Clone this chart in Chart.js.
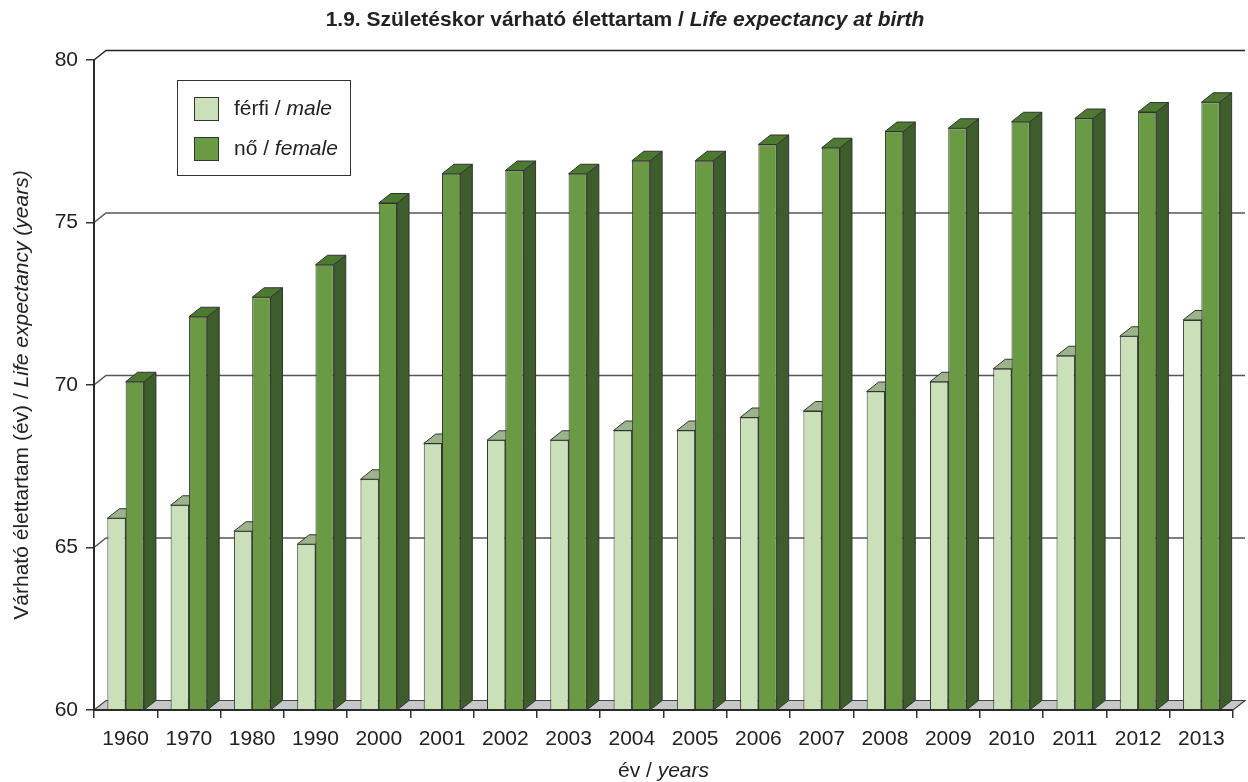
<!DOCTYPE html>
<html>
<head>
<meta charset="utf-8">
<script src="https://cdn.jsdelivr.net/npm/chart.js@4"></script>
<style>
  html, body { margin: 0; padding: 0; background: #fff; }
  #c { display: block; }
</style>
</head>
<body>
<canvas id="c" width="1248" height="782"></canvas>
<script>
// --- data ---
const years = ['1960', '1970', '1980', '1990', '2000', '2001', '2002', '2003', '2004',
               '2005', '2006', '2007', '2008', '2009', '2010', '2011', '2012', '2013'];
const male = [65.9, 66.3, 65.5, 65.1, 67.1, 68.2, 68.3, 68.3, 68.6,
              68.6, 69.0, 69.2, 69.8, 70.1, 70.5, 70.9, 71.5, 72.0];
const female = [70.1, 72.1, 72.7, 73.7, 75.6, 76.5, 76.6, 76.5, 76.9,
                76.9, 77.4, 77.3, 77.8, 77.9, 78.1, 78.2, 78.4, 78.7];
const yTicks = [60, 65, 70, 75, 80];

const FONT = '"Liberation Sans", Arial, sans-serif';
const DX = 12, DY = 9.5; // 3d depth

// face colours per dataset: front, top, side
const faces = [
  { front: '#c9e0b9', top: '#9db38c', side: '#8aa079' },
  { front: '#6a9a44', top: '#4d7a31', side: '#3d5e2b' }
];

// draw a run of text parts with mixed fonts, centred on x
function drawParts(ctx, parts, x, y) {
  let total = 0;
  parts.forEach(p => { ctx.font = p.font; total += ctx.measureText(p.text).width; });
  let cx = x - total / 2;
  ctx.textAlign = 'left';
  ctx.textBaseline = 'middle';
  parts.forEach(p => {
    ctx.font = p.font;
    ctx.fillText(p.text, cx, y);
    cx += ctx.measureText(p.text).width;
  });
}

function poly(ctx, pts, fill, stroke) {
  ctx.beginPath();
  ctx.moveTo(pts[0][0], pts[0][1]);
  for (let i = 1; i < pts.length; i++) ctx.lineTo(pts[i][0], pts[i][1]);
  ctx.closePath();
  if (fill) { ctx.fillStyle = fill; ctx.fill(); }
  if (stroke) { ctx.strokeStyle = stroke; ctx.lineWidth = 1; ctx.stroke(); }
}

const depthPlugin = {
  id: 'depth',
  beforeDatasetsDraw(chart) {
    const { ctx, chartArea: a, scales: { y } } = chart;
    ctx.save();

    // --- floor ---
    const base = y.getPixelForValue(60);
    poly(ctx, [[a.left, base], [a.right, base], [a.right + DX, base - DY], [a.left + DX, base - DY]],
         '#c6c7c9', null);
    ctx.strokeStyle = '#444';
    ctx.lineWidth = 1.2;
    ctx.beginPath();
    ctx.moveTo(a.left, base);
    ctx.lineTo(a.left + DX, base - DY);
    ctx.lineTo(a.right + DX, base - DY);
    ctx.lineTo(a.right, base);
    ctx.stroke();

    // --- back wall gridlines ---
    yTicks.forEach(v => {
      if (v === 60) return;
      const py = y.getPixelForValue(v);
      ctx.strokeStyle = v === 80 ? '#222' : '#555';
      ctx.lineWidth = 1.5;
      ctx.beginPath();
      ctx.moveTo(a.left, py);
      ctx.lineTo(a.left + DX, py - DY);
      ctx.lineTo(a.right + DX, py - DY);
      ctx.stroke();
    });

    // --- top and side faces of the bars ---
    [0, 1].forEach(di => {
      const meta = chart.getDatasetMeta(di);
      meta.data.forEach(bar => {
        const x0 = bar.x - bar.width / 2, x1 = bar.x + bar.width / 2;
        const top = bar.y;
        poly(ctx, [[x1, top], [x1 + DX, top - DY], [x1 + DX, base - DY], [x1, base]],
             faces[di].side, '#333');
        poly(ctx, [[x0, top], [x1, top], [x1 + DX, top - DY], [x0 + DX, top - DY]],
             faces[di].top, '#333');
      });
    });
    ctx.restore();
  },
  afterDatasetsDraw(chart) {
    const { ctx, chartArea: a } = chart;
    ctx.save();
    ctx.strokeStyle = '#2a2a2a';
    ctx.lineWidth = 2;
    ctx.beginPath();
    ctx.moveTo(a.left, a.top);
    ctx.lineTo(a.left, a.bottom);
    ctx.lineTo(a.right, a.bottom);
    ctx.stroke();
    ctx.restore();
  },
  afterDraw(chart) {
    const { ctx, chartArea: a } = chart;
    ctx.save();
    ctx.fillStyle = '#222';

    // title
    drawParts(ctx, [
      { text: '1.9. Születéskor várható élettartam / ', font: 'bold 21px ' + FONT },
      { text: 'Life expectancy at birth', font: 'italic bold 21px ' + FONT }
    ], 625, 20);

    // x axis title
    drawParts(ctx, [
      { text: 'év / ', font: '21px ' + FONT },
      { text: 'years', font: 'italic 21px ' + FONT }
    ], (a.left + a.right) / 2, 771);

    // y axis title
    ctx.save();
    ctx.translate(22, 395);
    ctx.rotate(-Math.PI / 2);
    drawParts(ctx, [
      { text: 'Várható élettartam (év) / ', font: '21px ' + FONT },
      { text: 'Life expectancy (years)', font: 'italic 21px ' + FONT }
    ], 0, 0);
    ctx.restore();

    // legend
    ctx.fillStyle = '#fff';
    ctx.fillRect(177, 80, 173, 95);
    ctx.strokeStyle = '#333';
    ctx.lineWidth = 1;
    ctx.strokeRect(177.5, 80.5, 173, 95);
    const items = [
      { a: 'férfi / ', b: 'male', y: 109 },
      { a: 'nő / ', b: 'female', y: 149 }
    ];
    items.forEach((it, i) => {
      ctx.fillStyle = faces[i].front;
      ctx.fillRect(194, it.y - 12, 25, 24);
      ctx.strokeStyle = '#333';
      ctx.strokeRect(194.5, it.y - 11.5, 24, 23);
      ctx.fillStyle = '#222';
      ctx.textAlign = 'left';
      ctx.textBaseline = 'middle';
      ctx.font = '21px ' + FONT;
      ctx.fillText(it.a, 234, it.y);
      const w = ctx.measureText(it.a).width;
      ctx.font = 'italic 21px ' + FONT;
      ctx.fillText(it.b, 234 + w, it.y);
    });
    ctx.restore();
  }
};

new Chart(document.getElementById('c'), {
  type: 'bar',
  data: {
    labels: years,
    datasets: [
      { label: 'férfi / male', data: male, backgroundColor: faces[0].front,
        borderColor: '#333', borderWidth: 1, borderSkipped: false },
      { label: 'nő / female', data: female, backgroundColor: faces[1].front,
        borderColor: '#333', borderWidth: 1, borderSkipped: false }
    ]
  },
  options: {
    responsive: false,
    animation: false,
    devicePixelRatio: 1,
    layout: { padding: { top: 60, right: 15, left: 0, bottom: 0 } },
    datasets: { bar: { categoryPercentage: 0.578, barPercentage: 1 } },
    plugins: { legend: { display: false }, title: { display: false }, tooltip: { enabled: false } },
    scales: {
      x: {
        grid: { offset: true, drawOnChartArea: false, tickLength: 8, color: '#333', lineWidth: 1.5 },
        border: { display: true, color: '#2a2a2a', width: 2 },
        ticks: { color: '#222', font: { family: FONT, size: 21 }, padding: 9, maxRotation: 0, autoSkip: false },
        afterFit(s) { s.height = 72; }
      },
      y: {
        min: 60,
        max: 80,
        grid: { drawOnChartArea: false, tickLength: 8, color: '#333', lineWidth: 1.5 },
        border: { display: true, color: '#2a2a2a', width: 2 },
        ticks: { stepSize: 5, color: '#222', font: { family: FONT, size: 21 }, padding: 8 },
        afterFit(s) { s.width = 94; }
      }
    }
  },
  plugins: [depthPlugin]
});
</script>
</body>
</html>
